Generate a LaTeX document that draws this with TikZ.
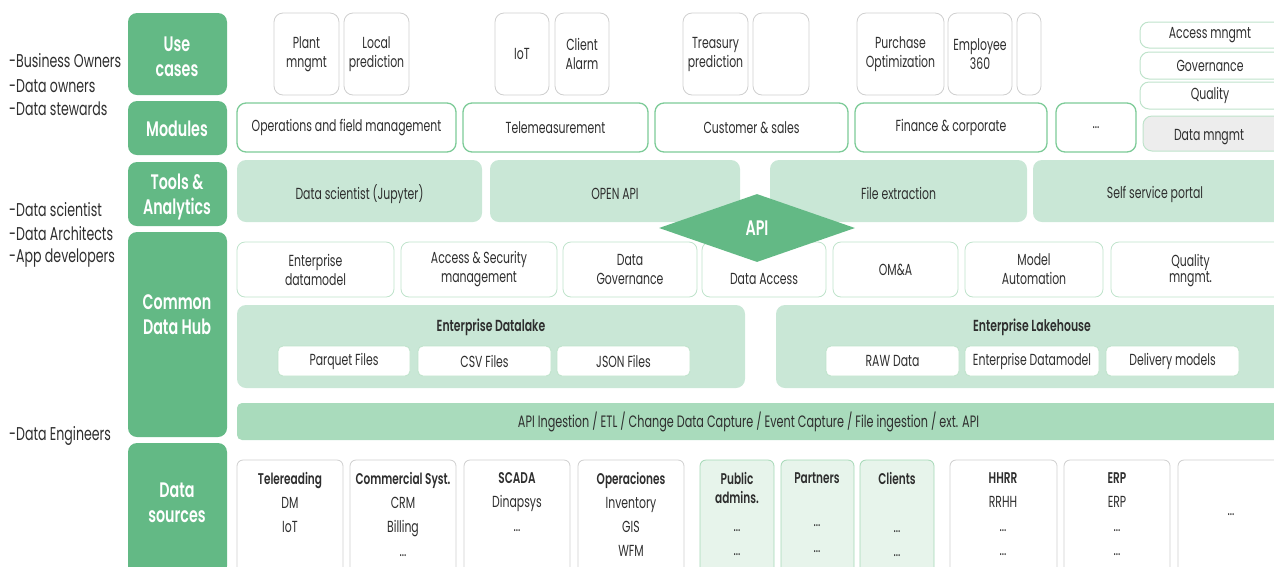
\documentclass[tikz,border=0pt]{standalone}
\usepackage{fontspec}
\setmainfont{Poppins}[FakeStretch=0.68, BoldFont={Poppins SemiBold}]
\usetikzlibrary{shapes.geometric}

\definecolor{catg}{HTML}{63B985}
\definecolor{lightf}{HTML}{C9E7D6}
\definecolor{barf}{HTML}{A9DBBC}
\definecolor{modb}{HTML}{7DCB98}
\definecolor{grayb}{HTML}{CFCFCF}
\definecolor{hubb}{HTML}{BFE3CB}
\definecolor{srcf}{HTML}{E7F4EB}
\definecolor{srcb}{HTML}{A5D8B6}
\definecolor{dmf}{HTML}{EDEDED}
\definecolor{txt}{HTML}{2E2E2E}

\newcommand\txtfont{\fontsize{16}{19}\selectfont}
\newcommand\catfont{\bfseries\fontsize{21}{25}\selectfont}
\newcommand\rolefont{\fontsize{18.5}{22}\selectfont}
\newcommand\ttlfont{\bfseries\fontsize{16}{19}\selectfont}
\newcommand\srcfont{\fontsize{16}{24}\selectfont}
\newcommand\srcttl{\bfseries\fontsize{15.5}{19}\selectfont}
% lower a label without changing the size of its node
\newcommand\dn[2]{\raisebox{-#1pt}[\height][\depth]{#2}}

% box from corner (x1,y1) to corner (x2,y2): style, name, x1, y1, x2, y2, text
\newcommand\bx[7]{\node[#1, minimum width={(#5-#3)*1pt}, minimum height={(#6-#4)*1pt}]
  (#2) at ({(#3+#5)/2},{(#4+#6)/2}) {#7};}

\tikzset{
  base/.style={rounded corners=7pt, inner sep=0pt, align=center, text=txt, font=\txtfont},
  catbox/.style={base, fill=catg, rounded corners=9pt},
  cattext/.style={inner sep=0pt, align=center, text=white, font=\catfont},
  ucbox/.style={base, fill=white, draw=grayb, line width=0.8pt, rounded corners=9pt},
  modbox/.style={base, fill=white, draw=modb, line width=1.3pt, rounded corners=9pt},
  govbox/.style={base, fill=white, draw=hubb, line width=1pt, rounded corners=9pt},
  dmbox/.style={base, fill=dmf, draw=hubb, line width=1pt, rounded corners=9pt},
  toolbox/.style={base, fill=lightf, rounded corners=9pt},
  hubbox/.style={base, fill=white, draw=hubb, line width=0.8pt, rounded corners=8pt},
  lakebox/.style={base, fill=lightf, rounded corners=9pt},
  filebox/.style={base, fill=white, draw=hubb, line width=0.8pt, rounded corners=5pt},
  barbox/.style={base, fill=barf, rounded corners=5pt},
  srcbox/.style={base, fill=white, draw=grayb, line width=0.8pt, rounded corners=6pt},
  extbox/.style={base, fill=srcf, draw=srcb, line width=0.8pt, rounded corners=6pt},
  srctext/.style={inner sep=0pt, align=center, text=txt, font=\srcfont, anchor=north},
  role/.style={inner sep=0pt, anchor=west, text=txt, font=\rolefont},
  title/.style={inner sep=0pt, text=txt, font=\ttlfont},
  apinode/.style={diamond, fill=catg, inner sep=0pt, text=white, font=\catfont,
    minimum width=196pt, minimum height=68pt},
}

\begin{document}
\begin{tikzpicture}[x=1pt, y=-1pt]
\useasboundingbox (0,0) rectangle (1274,566);
\clip (0,0) rectangle (1274,566);

% roles
\node[role] (r1) at (9,61) {-Business Owners};
\node[role] (r2) at (9,86) {-Data owners};
\node[role] (r3) at (9,109) {-Data stewards};
\node[role] (r4) at (9,210) {-Data scientist};
\node[role] (r5) at (9,234) {-Data Architects};
\node[role] (r6) at (9,258) {-App developers};
\node[role] (r7) at (9,436) {-Data Engineers};

% layer headers
\bx{catbox}{cuse}{128}{13}{227}{95}{}
\node[cattext] (cusetxt) at (177,57) {Use\\cases};
\bx{catbox}{cmod}{128}{101}{227}{155}{}
\node[cattext] (cmodtxt) at (177,129) {Modules};
\bx{catbox}{ctool}{128}{162}{227}{226}{}
\node[cattext] (ctooltxt) at (177,197) {Tools \&\\Analytics};
\bx{catbox}{chub}{128}{232}{227}{437}{}
\node[cattext] (chubtxt) at (177,315) {Common\\Data Hub};
\bx{catbox}{csrc}{128}{443}{227}{575}{}
\node[cattext] (csrctxt) at (177,503) {Data\\sources};

% use cases
\bx{ucbox}{u1}{274}{13}{339}{95}{Plant\\mngmt}
\bx{ucbox}{u2}{344}{13}{409}{95}{Local\\prediction}
\bx{ucbox}{u3}{495}{13}{549}{95}{IoT}
\bx{ucbox}{u4}{555}{13}{609}{95}{Client\\Alarm}
\bx{ucbox}{u5}{683}{13}{748}{95}{Treasury\\prediction}
\bx{ucbox}{u6}{753}{13}{809}{95}{}
\bx{ucbox}{u7}{857}{13}{944}{95}{Purchase\\Optimization}
\bx{ucbox}{u8}{948}{13}{1012}{95}{Employee\\360}
\bx{ucbox}{u9}{1017}{13}{1041}{95}{}

% governance column
\bx{govbox}{g1}{1140}{22}{1300}{48}{\hspace*{-20pt}Access mngmt}
\bx{govbox}{g2}{1140}{52}{1300}{79}{\hspace*{-20pt}Governance}
\bx{govbox}{g3}{1140}{82}{1300}{109}{\hspace*{-20pt}Quality}
\bx{dmbox}{g4}{1143}{116}{1300}{151}{\dn{4}{\hspace*{-25pt}Data mngmt}}

% modules
\bx{modbox}{m1}{237}{103}{456}{152}{Operations and field management}
\bx{modbox}{m2}{463}{103}{648}{152}{Telemeasurement}
\bx{modbox}{m3}{655}{103}{848}{152}{Customer \& sales}
\bx{modbox}{m4}{855}{103}{1047}{152}{Finance \& corporate}
\bx{modbox}{m5}{1056}{103}{1136}{152}{...}

% tools & analytics
\bx{toolbox}{t1}{237}{160}{482}{222}{\dn{3}{Data scientist (Jupyter)}}
\bx{toolbox}{t2}{490}{160}{740}{222}{\dn{3}{OPEN API}}
\bx{toolbox}{t3}{770}{160}{1027}{222}{\dn{2}{File extraction}}
\bx{toolbox}{t4}{1033}{160}{1290}{222}{\dn{3}{\hspace*{-13pt}Self service portal}}

% common data hub services
\bx{hubbox}{h1}{237}{242}{394}{297}{Enterprise\\datamodel}
\bx{hubbox}{h2}{401}{242}{557}{297}{Access \& Security\\management}
\bx{hubbox}{h3}{563}{242}{697}{297}{Data\\Governance}
\bx{hubbox}{h4}{702}{242}{826}{297}{\phantom{D}\\Data Access}
\bx{hubbox}{h5}{833}{242}{958}{297}{OM\&A}
\bx{hubbox}{h6}{965}{242}{1103}{297}{Model\\Automation}
\bx{hubbox}{h7}{1111}{242}{1290}{297}{\dn{3}{\hspace*{-20pt}Quality}\\\hspace*{-20pt}mngmt.}

% API gateway
\node[apinode] (api) at (757,228) {API};

% storage
\bx{lakebox}{dl}{237}{305}{745}{388}{}
\node[title] (dltitle) at (491,327) {Enterprise Datalake};
\bx{filebox}{f1}{278}{346}{410}{376}{Parquet Files}
\bx{filebox}{f2}{418}{346}{551}{376}{CSV Files}
\bx{filebox}{f3}{557}{346}{690}{376}{JSON Files}

\bx{lakebox}{lh}{776}{305}{1290}{388}{}
\node[title] (lhtitle) at (1032,327) {Enterprise Lakehouse};
\bx{filebox}{f4}{826}{346}{959}{376}{RAW Data}
\bx{filebox}{f5}{965}{346}{1099}{376}{Enterprise Datamodel}
\bx{filebox}{f6}{1106}{346}{1239}{376}{Delivery models}

% ingestion
\bx{barbox}{ing}{237}{403}{1290}{440}{\fontsize{16.5}{19}\selectfont\hspace*{-30pt}API Ingestion / ETL / Change Data Capture / Event Capture / File ingestion / ext. API}

% data sources
\bx{srcbox}{s1}{237}{460}{343}{580}{}
\bx{srcbox}{s2}{350}{460}{456}{580}{}
\bx{srcbox}{s3}{464}{460}{570}{580}{}
\bx{srcbox}{s4}{578}{460}{684}{580}{}
\bx{extbox}{s5}{700}{460}{774}{580}{}
\bx{extbox}{s6}{781}{460}{854}{580}{}
\bx{extbox}{s7}{860}{460}{934}{580}{}
\bx{srcbox}{s8}{950}{460}{1057}{580}{}
\bx{srcbox}{s9}{1064}{460}{1170}{580}{}
\bx{srcbox}{s10}{1178}{460}{1290}{580}{}

\node[srctext] (s1t) at (290,472) {{\srcttl Telereading}\\DM\\IoT};
\node[srctext] (s2t) at (403,472) {{\srcttl Commercial Syst.}\\CRM\\Billing\\...};
\node[srctext] (s3t) at (517,472) {{\srcttl SCADA}\\Dinapsys\\...};
\node[srctext] (s4t) at (631,472) {{\srcttl Operaciones}\\Inventory\\GIS\\WFM};
\node[srctext] (s5t) at (737,472) {{\srcttl Public}\\[-5pt]{\srcttl admins.}\\[4pt]...\\...};
\node[srctext] (s6t) at (817,472) {{\srcttl Partners}\\[19pt]...\\[2pt]...};
\node[srctext] (s7t) at (897,472) {{\srcttl Clients}\\[24pt]...\\...};
\node[srctext] (s8t) at (1003,472) {{\srcttl HHRR}\\RRHH\\...\\...};
\node[srctext] (s9t) at (1117,472) {{\srcttl ERP}\\ERP\\...\\...};
\node[srctext, anchor=center] (s10t) at (1231,515) {...};
\end{tikzpicture}
\end{document}
